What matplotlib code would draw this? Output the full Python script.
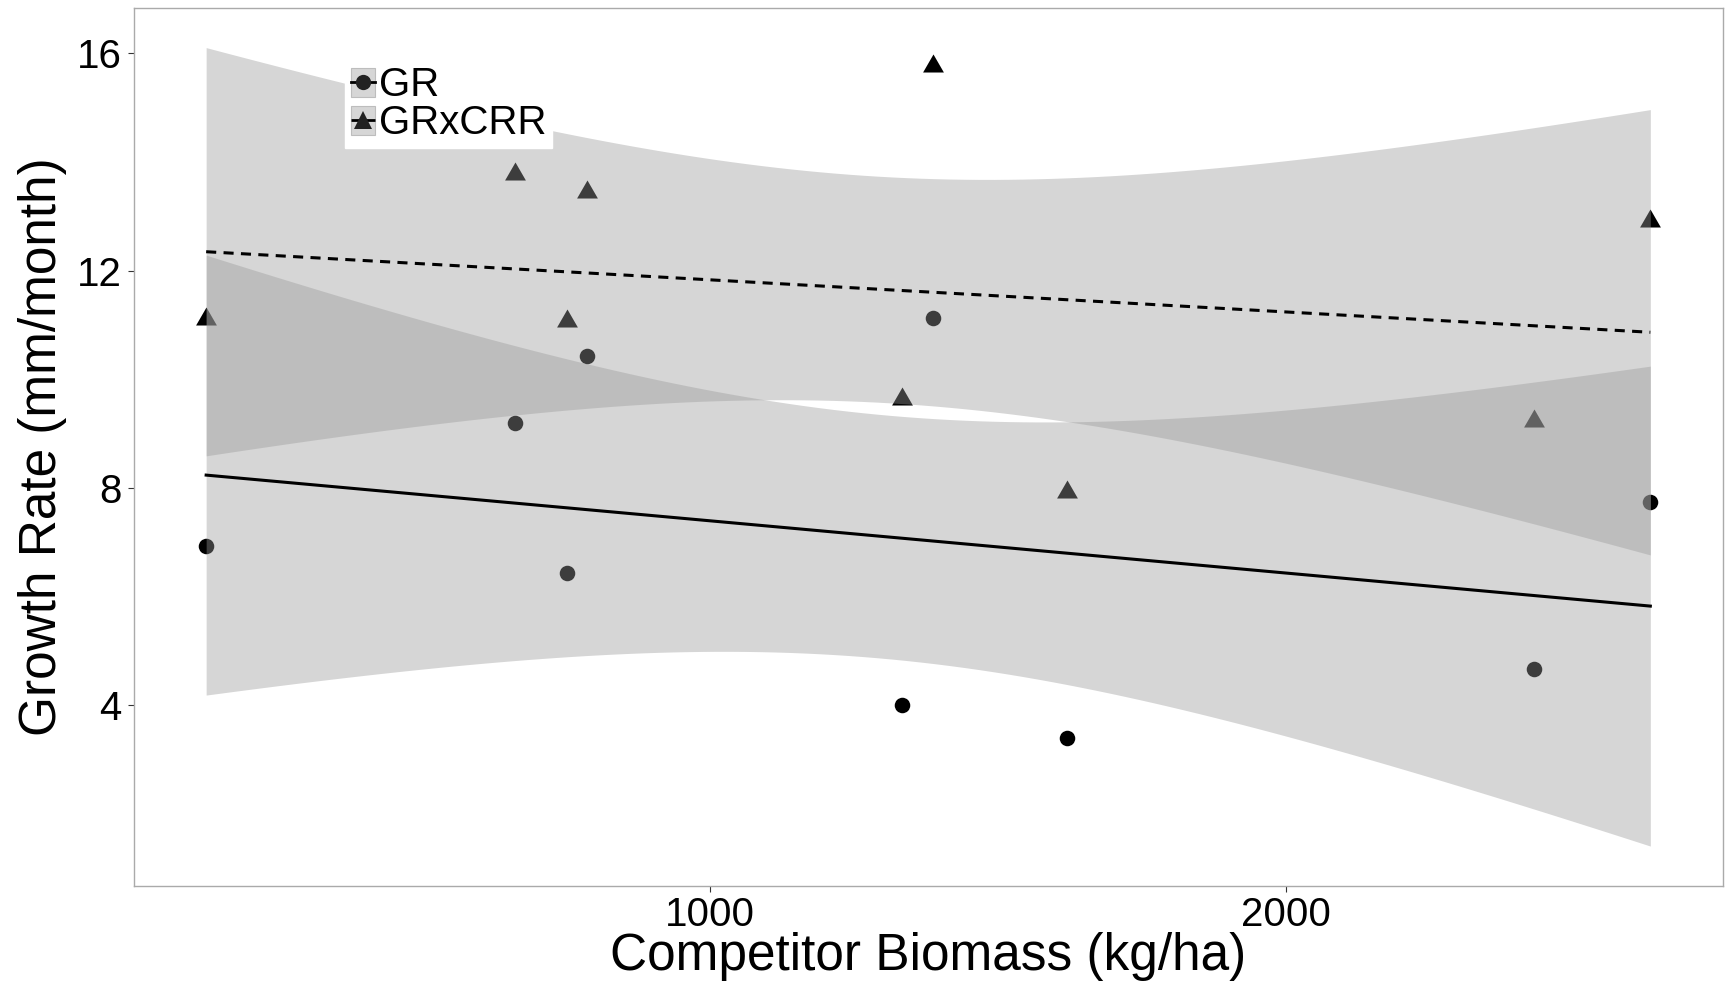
import numpy as np
import matplotlib.pyplot as plt
from matplotlib.lines import Line2D
from matplotlib.patches import Patch

plt.rcParams['font.family'] = ['Liberation Sans', 'DejaVu Sans']

# values
biomass = [124, 660, 752, 786, 1334, 1387, 1620, 2431, 2634]
gr = [6.93, 9.19, 6.43, 10.42, 4.00, 11.13, 3.40, 4.67, 7.74]
grxcrr = [11.10, 13.77, 11.08, 13.44, 9.63, 15.76, 7.92, 9.23, 12.92]
series_names = ['GR', 'GRxCRR']
y_ticks = [4, 8, 12, 16]
x_ticks = [1000, 2000]


def lm_band(x, y, n=100):
    # linear fit with 95% confidence band (like geom_smooth(method='lm'))
    x = np.asarray(x, float)
    y = np.asarray(y, float)
    b, a = np.polyfit(x, y, 1)
    xs = np.linspace(x.min(), x.max(), n)
    fit = a + b * xs
    resid = y - (a + b * x)
    s = np.sqrt(np.sum(resid ** 2) / (len(x) - 2))
    se = s * np.sqrt(1 / len(x) + (xs - x.mean()) ** 2 / np.sum((x - x.mean()) ** 2))
    t = 2.364624  # t(0.975, df=7)
    return xs, fit, fit - t * se, fit + t * se


tri = [(-0.5, -0.2887), (0.5, -0.2887), (0, 0.5774)]

fig = plt.figure(figsize=(17.26, 9.84), dpi=100)
ax = fig.add_axes([0.0776, 0.0996, 0.9204, 0.8926])

ax.scatter(biomass, gr, s=125, marker='o', color='black', linewidths=0, zorder=1)
ax.scatter(biomass, grxcrr, s=300, marker=tri, color='black', linewidths=0, zorder=1)

for ys, ls in [(gr, '-'), (grxcrr, '--')]:
    xs, fit, lo, hi = lm_band(biomass, ys)
    ax.fill_between(xs, lo, hi, color='#999999', alpha=0.4, linewidth=0, zorder=2)
    if ls == '-':
        ax.plot(xs, fit, color='black', lw=2.2, zorder=3)
    else:
        ax.plot(xs, fit, color='black', lw=2.2, dashes=(3.3, 2.4), zorder=3)

ax.margins(0.05)
ax.set_xticks(x_ticks)
ax.set_yticks(y_ticks)
ax.tick_params(labelsize=29, length=4, width=0.8, color='#333333', pad=5)
ax.tick_params(axis='x', pad=3)
for sp in ax.spines.values():
    sp.set_color('#aaaaaa')
    sp.set_linewidth(1)
ax.set_xlabel('Competitor Biomass (kg/ha)', fontsize=37, labelpad=-1)
ax.set_ylabel('Growth Rate (mm/month)', fontsize=37, labelpad=7)

handles = []
for name, mk, ls in [('GR', 'o', '-'), ('GRxCRR', '^', '--')]:
    key = Patch(facecolor='#d6d6d6', edgecolor='#bdbdbd', linewidth=0.8)
    line = Line2D([], [], color='black', lw=2, linestyle=ls, marker=mk,
                  markersize=11 if mk == 'o' else 13, markerfacecolor='#222222',
                  markeredgewidth=0)
    handles.append((key, line))
leg = ax.legend(handles, series_names, loc='upper left', bbox_to_anchor=(0.133, 0.94),
                fontsize=29, handlelength=0.6, handleheight=0.75, handletextpad=0.08,
                labelspacing=0.0, borderpad=0.15, borderaxespad=0,
                frameon=True, fancybox=False, framealpha=1)
leg.get_frame().set_edgecolor('white')
leg.set_zorder(5)

fig.savefig('out.png', dpi=100, facecolor='white')
